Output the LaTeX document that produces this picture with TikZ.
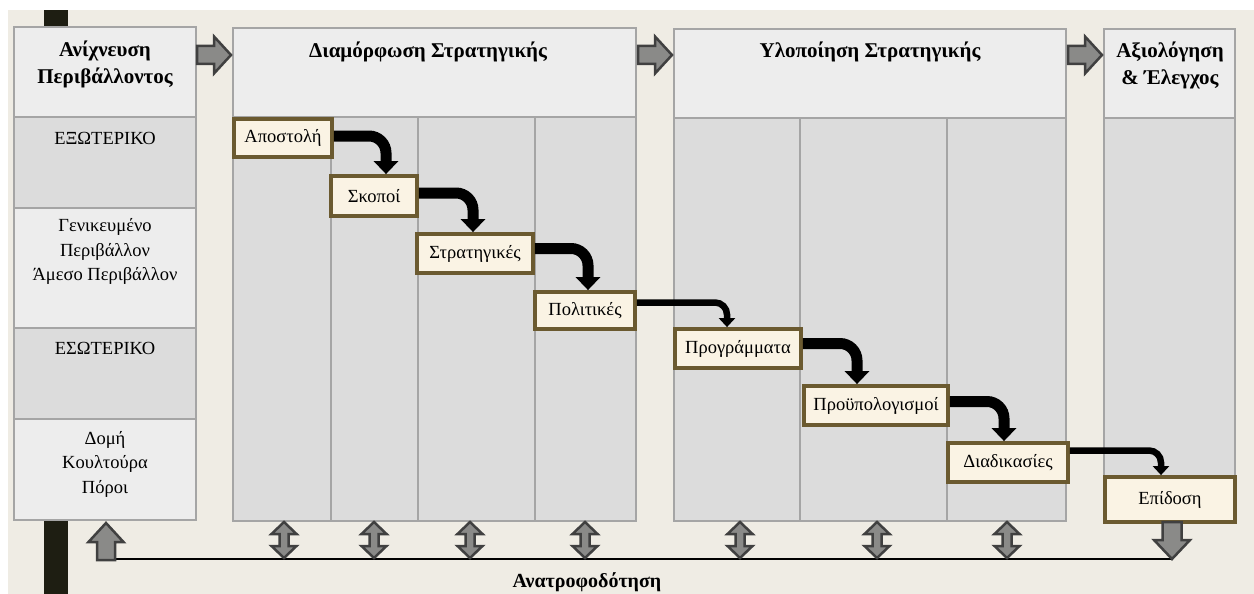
\documentclass[tikz,border=0pt]{standalone}
\usepackage{fontspec}
\setmainfont{Liberation Serif}
\usetikzlibrary{arrows.meta}

\definecolor{bgbeige}{HTML}{EFECE4}
\definecolor{barblack}{HTML}{1E1E12}
\definecolor{hdrfill}{HTML}{EDEDED}
\definecolor{cellfill}{HTML}{DCDCDC}
\definecolor{cellline}{HTML}{A5A5A5}
\definecolor{stagefill}{HTML}{FAF3E4}
\definecolor{stageline}{HTML}{6B5A30}
\definecolor{arrowfill}{HTML}{8A8A88}
\definecolor{arrowline}{HTML}{404040}

\begin{document}
\begin{tikzpicture}[x=1pt,y=-1pt,
  panel/.style={draw=cellline, line width=1.5pt},
  hdrtext/.style={font=\fontsize{21}{27}\selectfont\bfseries, align=center, inner sep=0pt},
  celltext/.style={font=\fontsize{18.5}{24.5}\selectfont, align=center, inner sep=0pt},
  stagebox/.style={draw=stageline, fill=stagefill, line width=3.8pt, inner sep=0pt,
    font=\fontsize{18.5}{22}\selectfont},
  flowthick/.style={line width=11pt, rounded corners=17pt,
    -{Triangle[width=24pt,length=13pt]}},
  flowthin/.style={line width=6.5pt, rounded corners=12pt,
    -{Triangle[width=16pt,length=9pt]}},
  blockarrow/.style={fill=arrowfill, draw=arrowline, line width=2.5pt, line join=miter},
  updown/.pic={\filldraw[blockarrow] (0,0) -- (12.5,12) -- (4.5,12) -- (4.5,24)
      -- (12.5,24) -- (0,36) -- (-12.5,24) -- (-4.5,24) -- (-4.5,12) -- (-12.5,12) -- cycle;},
  uparrow/.pic={\filldraw[blockarrow] (0,0) -- (17.5,19) -- (9,19) -- (9,37)
      -- (-9,37) -- (-9,19) -- (-17.5,19) -- cycle;},
  downarrow/.pic={\filldraw[blockarrow] (-9.5,0) -- (9.5,0) -- (9.5,18) -- (18,18)
      -- (0,37) -- (-18,18) -- (-9.5,18) -- cycle;},
  rightarrow/.pic={\filldraw[blockarrow] (0,-9) -- (17,-9) -- (17,-18.5) -- (34,0)
      -- (17,18.5) -- (17,9) -- (0,9) -- cycle;}
]
\useasboundingbox (0,0) rectangle (1254,594);
\fill[white] (0,0) rectangle (1254,594);
\fill[bgbeige] (8,10) rectangle (1254,594);
\fill[barblack] (44,10) rectangle (68,594);

% ---- environmental scanning column
\draw[panel, fill=hdrfill]  (14,27)  rectangle (196,117);
\draw[panel, fill=cellfill] (14,117) rectangle (196,208);
\draw[panel, fill=hdrfill]  (14,208) rectangle (196,328);
\draw[panel, fill=cellfill] (14,328) rectangle (196,419);
\draw[panel, fill=hdrfill]  (14,419) rectangle (196,520);
\node[hdrtext] (scanhdr) at (105,64) {Ανίχνευση\\Περιβάλλοντος};
\node[celltext] (ext) at (105,138) {ΕΞΩΤΕΡΙΚΟ};
\node[celltext] (extlist) at (105,251.5) {Γενικευμένο\\Περιβάλλον\\Άμεσο Περιβάλλον};
\node[celltext] (int) at (105,348) {ΕΣΩΤΕΡΙΚΟ};
\node[celltext] (intlist) at (105,464) {Δομή\\Κουλτούρα\\Πόροι};

% ---- strategy formulation
\draw[panel, fill=hdrfill] (233,28) rectangle (636,117);
\foreach \a/\b in {233/331, 331/418, 418/535, 535/636}
  \draw[panel, fill=cellfill] (\a,117) rectangle (\b,521);
\node[hdrtext] (formhdr) at (428,52) {Διαμόρφωση Στρατηγικής};

% ---- strategy implementation
\draw[panel, fill=hdrfill] (674,29) rectangle (1066,118);
\foreach \a/\b in {674/800, 800/947, 947/1066}
  \draw[panel, fill=cellfill] (\a,118) rectangle (\b,521);
\node[hdrtext] (implhdr) at (870,52) {Υλοποίηση Στρατηγικής};

% ---- evaluation and control
\draw[panel, fill=hdrfill]  (1104,29)  rectangle (1235,118);
\draw[panel, fill=cellfill] (1104,118) rectangle (1235,505);
\node[hdrtext] (evalhdr) at (1170,65) {Αξιολόγηση\\\& Έλεγχος};

% ---- phase arrows
\pic at (197,55) {rightarrow};
\pic at (638,55) {rightarrow};
\pic at (1068,55) {rightarrow};

% ---- stages
\node[stagebox, minimum width=98, minimum height=38]  (apo) at (283,138)   {Αποστολή};
\node[stagebox, minimum width=86, minimum height=40]  (sko) at (374,196)   {Σκοποί};
\node[stagebox, minimum width=116, minimum height=39] (str) at (475,253.5) {Στρατηγικές};
\node[stagebox, minimum width=100, minimum height=37] (pol) at (585,310.5) {Πολιτικές};
\node[stagebox, minimum width=126, minimum height=39] (pro) at (738,348.5) {Προγράμματα};
\node[stagebox, minimum width=144, minimum height=39] (bud) at (876,405.5) {Προϋπολογισμοί};
\node[stagebox, minimum width=120, minimum height=39] (dia) at (1008,462.5) {Διαδικασίες};
\node[stagebox, minimum width=130, minimum height=45] (epi) at (1170,499.5) {Επίδοση};

% ---- stage flow
\draw[flowthick] ([yshift=2pt]apo.east) -| ([xshift=12pt]sko.north);
\draw[flowthick] ([yshift=3pt]sko.east) -| ([xshift=-2pt]str.north);
\draw[flowthick] ([yshift=5pt]str.east) -| ([xshift=3pt]pol.north);
\draw[flowthin]  ([yshift=8pt]pol.east) -| ([xshift=-11pt]pro.north);
\draw[flowthick] ([yshift=5pt]pro.east) -| ([xshift=-19pt]bud.north);
\draw[flowthick] ([yshift=4pt]bud.east) -| ([xshift=-4pt]dia.north);
\draw[flowthin]  ([yshift=12pt]dia.east) -| ([xshift=-9pt]epi.north);

% ---- feedback loop
\coordinate (fbL) at (106,559);
\coordinate (fbR) at (1172,559);
\draw[line width=1.5pt] (fbL) -- (fbR);
\foreach \x in {284,374,470,585,740,877,1007}
  \pic at (\x,522) {updown};
\pic at (106,523) {uparrow};
\pic at (1172,522) {downarrow};
\node[font=\fontsize{20}{22}\selectfont\bfseries, inner sep=0pt] (fb) at (587,582) {Ανατροφοδότηση};
\end{tikzpicture}
\end{document}
